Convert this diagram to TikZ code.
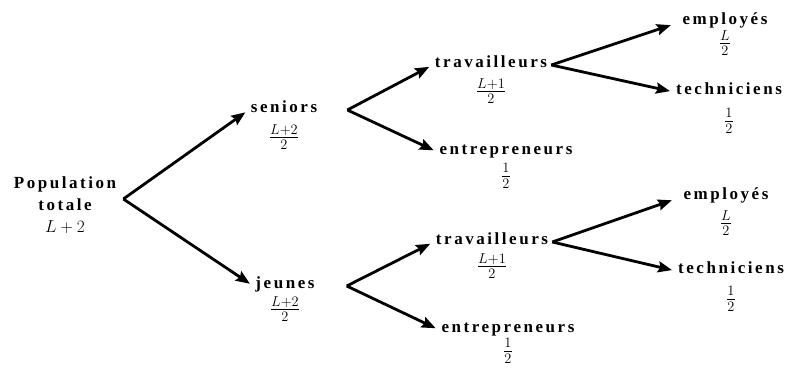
\documentclass[tikz,border=0pt]{standalone}
\usepackage{fontspec}
\setmainfont{Liberation Serif}
\newfontfamily\spacedfont[LetterSpace=15]{Liberation Serif}
\usetikzlibrary{arrows.meta}
\tikzstyle{word} = [rectangle, draw = none, font = \fontsize{17}{22}\selectfont\spacedfont\bfseries, inner sep = 2pt, text height = 0.7em, text depth = 0.25em]
\tikzstyle{rootword} = [rectangle, draw = none, align = center, font = \fontsize{17}{22}\selectfont\spacedfont\bfseries, inner sep = 2pt]
\tikzstyle{share} = [rectangle, draw = none, font = \fontsize{22}{26}\selectfont, inner sep = 0pt]
\tikzstyle{line} = [line width = 2.8pt, ->, >= {Stealth[length = 14pt, width = 11pt, inset = 2pt]}, shorten > = 4pt]

\begin{document}
\begin{tikzpicture}[node distance = 1cm, auto]
        \useasboundingbox (-65pt,-169pt) rectangle (720pt,205pt);
        \node(pop) [rootword] {Population\\totale\\$L+2$};
        \node(seniors) [word, right of = pop, node distance = 219pt, yshift = 95pt] {seniors};
        \node(jeunes) [word, right of = pop, node distance = 220pt, yshift = -81pt] {jeunes};
        \node(travS) [word, right of = seniors, node distance = 207pt, yshift = 45pt] {travailleurs};
        \node(entrS) [word, right of = seniors, node distance = 222pt, yshift = -42pt] {entrepreneurs};
        \node(travJ) [word, right of = jeunes, node distance = 207pt, yshift = 44pt] {travailleurs};
        \node(entrJ) [word, right of = jeunes, node distance = 223pt, yshift = -44pt] {entrepreneurs};
        \node(empS) [word, right of = travS, node distance = 234pt, yshift = 43pt] {employés};
        \node(techS) [word, right of = travS, node distance = 238pt, yshift = -27pt] {techniciens};
        \node(empJ) [word, right of = travJ, node distance = 234pt, yshift = 45pt] {employés};
        \node(techJ) [word, right of = travJ, node distance = 239pt, yshift = -29pt] {techniciens};
        % shares below each group
        \node(seniorsShare) [share, below of = seniors, node distance = 27pt] {$\frac{L+2}{2}$};
        \node(jeunesShare) [share, below of = jeunes, node distance = 23pt] {$\frac{L+2}{2}$};
        \node(travSShare) [share, below of = travS, node distance = 26pt] {$\frac{L+1}{2}$};
        \node(entrSShare) [share, below of = entrS, node distance = 24pt] {$\frac{1}{2}$};
        \node(travJShare) [share, below of = travJ, node distance = 24pt] {$\frac{L+1}{2}$};
        \node(entrJShare) [share, below of = entrJ, node distance = 21pt] {$\frac{1}{2}$};
        \node(empSShare) [share, below of = empS, node distance = 21pt] {$\frac{L}{2}$};
        \node(techSShare) [share, below of = techS, node distance = 29pt] {$\frac{1}{2}$};
        \node(empJShare) [share, below of = empJ, node distance = 26pt] {$\frac{L}{2}$};
        \node(techJShare) [share, below of = techJ, node distance = 28pt] {$\frac{1}{2}$};
        \draw[line] ([xshift = 5pt, yshift = 6pt]pop.east) -- (seniors.west);
        \draw[line] ([xshift = 5pt, yshift = 6pt]pop.east) -- (jeunes.west);
        \draw[line] ([xshift = 28pt]seniors.east) -- (travS.west);
        \draw[line] ([xshift = 28pt]seniors.east) -- (entrS.west);
        \draw[line] ([xshift = 30pt]jeunes.east) -- (travJ.west);
        \draw[line] ([xshift = 30pt]jeunes.east) -- (entrJ.west);
        \draw[line, shorten > = 10pt] ([xshift = 2pt]travS.east) -- (empS.west);
        \draw[line] ([xshift = 2pt]travS.east) -- (techS.west);
        \draw[line, shorten > = 10pt] ([xshift = 2pt]travJ.east) -- (empJ.west);
        \draw[line] ([xshift = 2pt]travJ.east) -- (techJ.west);
    \end{tikzpicture}
\end{document}
